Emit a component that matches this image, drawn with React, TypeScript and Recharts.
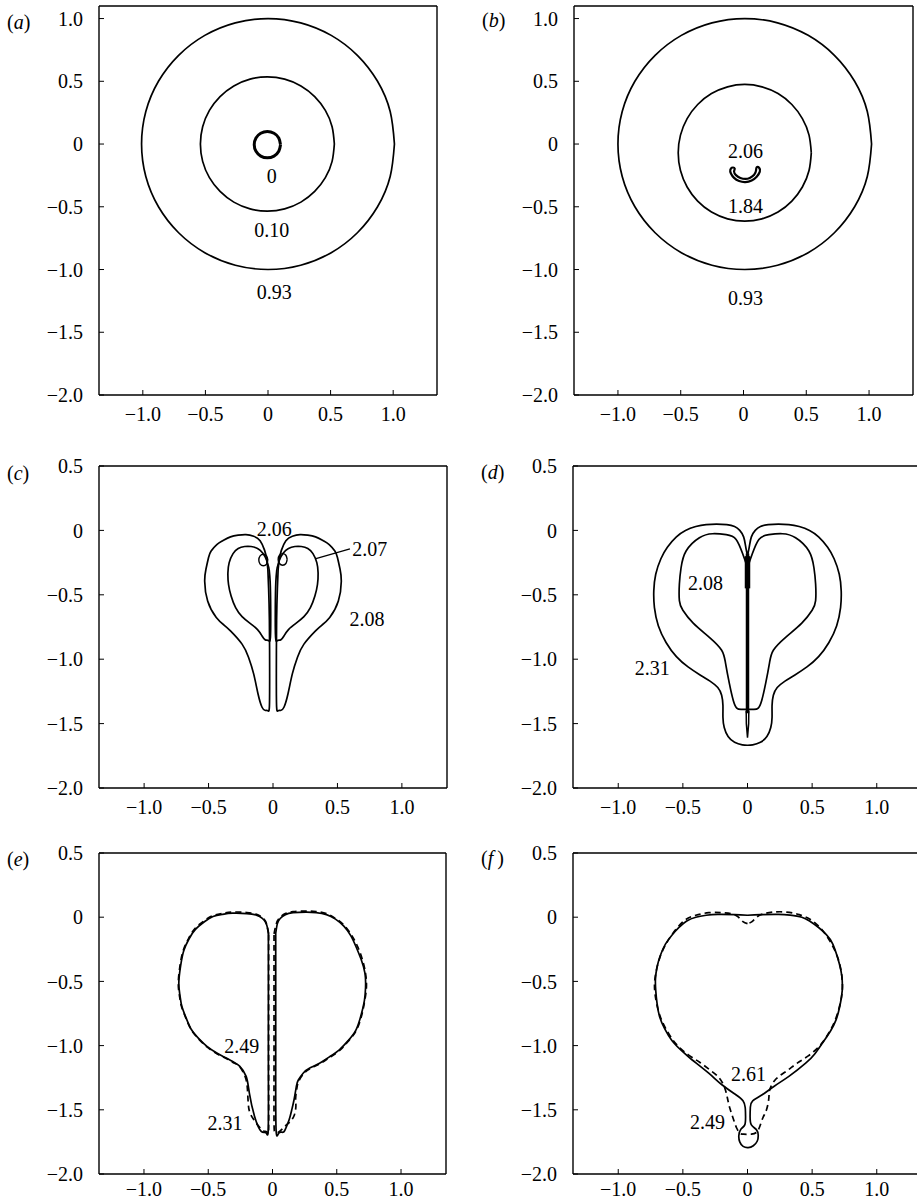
import React from 'react'
import { LineChart, Line, XAxis, YAxis, ReferenceDot } from 'recharts'

type Pt = [number, number]

const FONT = "'Liberation Serif', 'Times New Roman', serif"

// shared axis ticks
const xTicks = [-1, -0.5, 0, 0.5, 1]
const yTicksTall = [1, 0.5, 0, -0.5, -1, -1.5, -2]
const yTicksShort = [0.5, 0, -0.5, -1, -1.5, -2]

// (a) contours
const aOuter: Pt[] = [[1.01, 0], [0.976, 0.259], [0.875, 0.5], [0.714, 0.707], [0.505, 0.866], [0.261, 0.966], [0, 1], [-0.261, 0.966], [-0.505, 0.866], [-0.714, 0.707], [-0.875, 0.5], [-0.976, 0.259], [-1.01, 0], [-0.976, -0.259], [-0.875, -0.5], [-0.714, -0.707], [-0.505, -0.866], [-0.261, -0.966], [0, -1], [0.261, -0.966], [0.505, -0.866], [0.714, -0.707], [0.875, -0.5], [0.976, -0.259], [1.01, 0]]
const aMiddle: Pt[] = [[0.53, 0], [0.512, 0.138], [0.458, 0.268], [0.373, 0.378], [0.263, 0.463], [0.133, 0.517], [-0.005, 0.535], [-0.143, 0.517], [-0.273, 0.463], [-0.383, 0.378], [-0.468, 0.268], [-0.522, 0.138], [-0.54, 0], [-0.522, -0.138], [-0.468, -0.268], [-0.383, -0.378], [-0.273, -0.463], [-0.143, -0.517], [-0.005, -0.535], [0.133, -0.517], [0.263, -0.463], [0.373, -0.378], [0.458, -0.268], [0.512, -0.138], [0.53, 0]]
const aInner: Pt[] = [[0.1, -0.005], [0.086, 0.048], [0.048, 0.086], [-0.005, 0.1], [-0.058, 0.086], [-0.096, 0.048], [-0.11, -0.005], [-0.096, -0.058], [-0.058, -0.096], [-0.005, -0.11], [0.048, -0.096], [0.086, -0.058], [0.1, -0.005]]

// (b) contours
const bOuter: Pt[] = [[1.02, 0], [0.986, 0.259], [0.885, 0.5], [0.724, 0.707], [0.515, 0.866], [0.271, 0.966], [0.01, 1], [-0.251, 0.966], [-0.495, 0.866], [-0.704, 0.707], [-0.865, 0.5], [-0.966, 0.259], [-1.0, 0], [-0.966, -0.259], [-0.865, -0.5], [-0.704, -0.707], [-0.495, -0.866], [-0.251, -0.966], [0.01, -1], [0.271, -0.966], [0.515, -0.866], [0.724, -0.707], [0.885, -0.5], [0.986, -0.259], [1.02, 0]]
const bMiddle: Pt[] = [[0.54, -0.07], [0.522, 0.071], [0.469, 0.2025], [0.385, 0.315], [0.275, 0.402], [0.147, 0.456], [0.01, 0.475], [-0.127, 0.456], [-0.255, 0.402], [-0.365, 0.315], [-0.449, 0.2025], [-0.502, 0.071], [-0.52, -0.07], [-0.502, -0.211], [-0.449, -0.3425], [-0.365, -0.455], [-0.255, -0.542], [-0.127, -0.596], [0.01, -0.615], [0.147, -0.596], [0.275, -0.542], [0.385, -0.455], [0.469, -0.3425], [0.522, -0.211], [0.54, -0.07]]
const bCup: Pt[] = [[-0.09, -0.185], [-0.105, -0.205], [-0.1, -0.235], [-0.075, -0.27], [-0.035, -0.295], [0.015, -0.303], [0.065, -0.29], [0.105, -0.26], [0.13, -0.22], [0.125, -0.19], [0.105, -0.185], [0.1, -0.21], [0.085, -0.245], [0.05, -0.27], [0.015, -0.278], [-0.025, -0.27], [-0.06, -0.248], [-0.075, -0.22], [-0.07, -0.195], [-0.09, -0.185]]

// (c) contours
const cOuterL: Pt[] = [[-0.04, -0.3], [-0.05, -0.22], [-0.065, -0.155], [-0.1, -0.08], [-0.15, -0.045], [-0.21, -0.033], [-0.27, -0.037], [-0.33, -0.05], [-0.39, -0.08], [-0.436, -0.11], [-0.48, -0.16], [-0.5, -0.21], [-0.52, -0.3], [-0.53, -0.394], [-0.507, -0.548], [-0.44, -0.676], [-0.38, -0.735], [-0.33, -0.78], [-0.24, -0.883], [-0.19, -0.985], [-0.15, -1.114], [-0.116, -1.27], [-0.085, -1.373], [-0.06, -1.398], [-0.04, -1.4], [-0.028, -1.37], [-0.026, -1.1], [-0.028, -0.7], [-0.034, -0.45], [-0.04, -0.3]]
const cOuterR: Pt[] = [[0.04, -0.3], [0.05, -0.22], [0.065, -0.155], [0.1, -0.08], [0.15, -0.045], [0.21, -0.033], [0.27, -0.037], [0.33, -0.05], [0.39, -0.08], [0.436, -0.11], [0.48, -0.16], [0.5, -0.21], [0.52, -0.3], [0.53, -0.394], [0.507, -0.548], [0.44, -0.676], [0.38, -0.735], [0.33, -0.78], [0.24, -0.883], [0.19, -0.985], [0.15, -1.114], [0.116, -1.27], [0.085, -1.373], [0.06, -1.398], [0.04, -1.4], [0.028, -1.37], [0.026, -1.1], [0.028, -0.7], [0.034, -0.45], [0.04, -0.3]]
const cInnerL: Pt[] = [[-0.03, -0.3], [-0.05, -0.23], [-0.08, -0.175], [-0.12, -0.14], [-0.17, -0.125], [-0.22, -0.125], [-0.27, -0.14], [-0.31, -0.18], [-0.34, -0.25], [-0.35, -0.33], [-0.345, -0.42], [-0.325, -0.51], [-0.29, -0.6], [-0.24, -0.67], [-0.18, -0.72], [-0.12, -0.77], [-0.085, -0.82], [-0.06, -0.85], [-0.035, -0.855], [-0.02, -0.83], [-0.018, -0.6], [-0.022, -0.4], [-0.03, -0.3]]
const cInnerR: Pt[] = [[0.03, -0.3], [0.05, -0.23], [0.08, -0.175], [0.12, -0.14], [0.17, -0.125], [0.22, -0.125], [0.27, -0.14], [0.31, -0.18], [0.34, -0.25], [0.35, -0.33], [0.345, -0.42], [0.325, -0.51], [0.29, -0.6], [0.24, -0.67], [0.18, -0.72], [0.12, -0.77], [0.085, -0.82], [0.06, -0.85], [0.035, -0.855], [0.02, -0.83], [0.018, -0.6], [0.022, -0.4], [0.03, -0.3]]
const cLoopL: Pt[] = [[-0.04, -0.23], [-0.05, -0.198], [-0.075, -0.185], [-0.1, -0.198], [-0.11, -0.23], [-0.1, -0.262], [-0.075, -0.275], [-0.05, -0.262], [-0.04, -0.23]]
const cLoopR: Pt[] = [[0.11, -0.225], [0.1, -0.193], [0.075, -0.18], [0.05, -0.193], [0.04, -0.225], [0.05, -0.257], [0.075, -0.27], [0.1, -0.257], [0.11, -0.225]]
const cLeader: Pt[] = [[0.597, -0.144], [0.333, -0.219]]

// (d) contours
const dOuter: Pt[] = [[0, -0.2], [-0.015, -0.12], [-0.03, -0.05], [-0.06, 0], [-0.1, 0.03], [-0.16, 0.045], [-0.24, 0.048], [-0.32, 0.045], [-0.4, 0.03], [-0.48, 0], [-0.55, -0.05], [-0.62, -0.13], [-0.67, -0.22], [-0.71, -0.34], [-0.725, -0.47], [-0.72, -0.6], [-0.69, -0.74], [-0.63, -0.87], [-0.55, -0.98], [-0.46, -1.06], [-0.37, -1.12], [-0.29, -1.17], [-0.23, -1.22], [-0.2, -1.28], [-0.19, -1.36], [-0.19, -1.45], [-0.18, -1.53], [-0.15, -1.6], [-0.1, -1.645], [-0.04, -1.665], [0, -1.668], [0.04, -1.665], [0.1, -1.645], [0.15, -1.6], [0.18, -1.53], [0.19, -1.45], [0.19, -1.36], [0.2, -1.28], [0.23, -1.22], [0.29, -1.17], [0.37, -1.12], [0.46, -1.06], [0.55, -0.98], [0.63, -0.87], [0.69, -0.74], [0.72, -0.6], [0.725, -0.47], [0.71, -0.34], [0.67, -0.22], [0.62, -0.13], [0.55, -0.05], [0.48, 0], [0.4, 0.03], [0.32, 0.045], [0.24, 0.048], [0.16, 0.045], [0.1, 0.03], [0.06, 0], [0.03, -0.05], [0.015, -0.12], [0, -0.2]]
const dInner: Pt[] = [[0, -0.3], [-0.01, -0.26], [-0.036, -0.185], [-0.088, -0.07], [-0.165, -0.033], [-0.27, -0.026], [-0.372, -0.057], [-0.475, -0.16], [-0.514, -0.29], [-0.527, -0.416], [-0.527, -0.545], [-0.5, -0.62], [-0.42, -0.72], [-0.295, -0.83], [-0.2, -0.93], [-0.17, -1.03], [-0.14, -1.19], [-0.11, -1.32], [-0.083, -1.38], [-0.05, -1.39], [0, -1.39], [0.05, -1.39], [0.083, -1.38], [0.11, -1.32], [0.14, -1.19], [0.17, -1.03], [0.2, -0.93], [0.295, -0.83], [0.42, -0.72], [0.5, -0.62], [0.527, -0.545], [0.527, -0.416], [0.514, -0.29], [0.475, -0.16], [0.372, -0.057], [0.27, -0.026], [0.165, -0.033], [0.088, -0.07], [0.036, -0.185], [0.01, -0.26], [0, -0.3]]
const dStem: Pt[] = [[0, -0.18], [0, -1.42]]
const dStemTop: Pt[] = [[0, -0.2], [0, -0.45]]
const dStemTip: Pt[] = [[-0.01, -1.4], [-0.009, -1.5], [0, -1.61], [0.009, -1.5], [0.01, -1.4]]

// (e) contours: solid 2.49, dashed 2.31
const eSolidL: Pt[] = [[-0.032, -0.125], [-0.045, -0.06], [-0.068, -0.02], [-0.1, 0.005], [-0.13, 0.018], [-0.2, 0.028], [-0.31, 0.031], [-0.39, 0.022], [-0.463, 0.005], [-0.53, -0.035], [-0.6, -0.095], [-0.65, -0.17], [-0.69, -0.26], [-0.715, -0.38], [-0.729, -0.514], [-0.72, -0.61], [-0.705, -0.696], [-0.67, -0.79], [-0.63, -0.877], [-0.57, -0.95], [-0.51, -1.006], [-0.43, -1.06], [-0.36, -1.097], [-0.3, -1.13], [-0.256, -1.16], [-0.205, -1.24], [-0.18, -1.37], [-0.14, -1.55], [-0.088, -1.668], [-0.05, -1.68], [-0.033, -1.65], [-0.032, -1.2], [-0.032, -0.6], [-0.032, -0.125]]
const eSolidR: Pt[] = [[0.025, -0.125], [0.038, -0.05], [0.06, -0.01], [0.1, 0.02], [0.16, 0.035], [0.26, 0.04], [0.34, 0.036], [0.42, 0.02], [0.49, -0.015], [0.555, -0.07], [0.61, -0.145], [0.65, -0.23], [0.69, -0.33], [0.72, -0.44], [0.724, -0.55], [0.715, -0.65], [0.69, -0.76], [0.65, -0.877], [0.59, -0.96], [0.52, -1.033], [0.44, -1.09], [0.366, -1.137], [0.29, -1.175], [0.24, -1.213], [0.2, -1.27], [0.186, -1.316], [0.168, -1.42], [0.15, -1.5], [0.13, -1.576], [0.105, -1.64], [0.083, -1.675], [0.05, -1.68], [0.028, -1.66], [0.025, -1.2], [0.025, -0.6], [0.025, -0.125]]
const eDashL: Pt[] = [[-0.03, -0.13], [-0.044, -0.06], [-0.066, -0.015], [-0.1, 0.012], [-0.13, 0.025], [-0.2, 0.036], [-0.31, 0.04], [-0.39, 0.03], [-0.465, 0.012], [-0.535, -0.03], [-0.605, -0.09], [-0.655, -0.17], [-0.695, -0.26], [-0.72, -0.38], [-0.733, -0.514], [-0.724, -0.61], [-0.708, -0.696], [-0.672, -0.79], [-0.632, -0.877], [-0.572, -0.952], [-0.51, -1.01], [-0.43, -1.065], [-0.36, -1.1], [-0.3, -1.135], [-0.255, -1.165], [-0.21, -1.25], [-0.195, -1.34], [-0.19, -1.43], [-0.18, -1.51], [-0.15, -1.57], [-0.11, -1.625], [-0.07, -1.665], [-0.04, -1.675], [-0.03, -1.64], [-0.03, -1.2], [-0.03, -0.6], [-0.03, -0.13]]
const eDashR: Pt[] = [[0.012, -0.13], [0.03, -0.05], [0.055, -0.005], [0.1, 0.028], [0.16, 0.043], [0.26, 0.048], [0.34, 0.044], [0.42, 0.028], [0.49, -0.01], [0.555, -0.06], [0.615, -0.14], [0.665, -0.235], [0.705, -0.35], [0.727, -0.46], [0.73, -0.56], [0.716, -0.66], [0.695, -0.76], [0.655, -0.877], [0.595, -0.96], [0.525, -1.035], [0.445, -1.092], [0.37, -1.14], [0.295, -1.178], [0.245, -1.216], [0.205, -1.275], [0.19, -1.33], [0.18, -1.41], [0.182, -1.47], [0.17, -1.54], [0.14, -1.59], [0.106, -1.62], [0.075, -1.65], [0.045, -1.675], [0.02, -1.675], [0.012, -1.6], [0.012, -1.2], [0.012, -0.6], [0.012, -0.13]]

// (f) contours: solid 2.61, dashed 2.49
const fSolid: Pt[] = [[0, 0.015], [-0.1, 0.02], [-0.23, 0.022], [-0.32, 0.015], [-0.4, 0], [-0.47, -0.03], [-0.53, -0.08], [-0.585, -0.14], [-0.635, -0.21], [-0.675, -0.3], [-0.7, -0.39], [-0.712, -0.48], [-0.71, -0.57], [-0.7, -0.67], [-0.68, -0.775], [-0.64, -0.87], [-0.585, -0.96], [-0.51, -1.04], [-0.43, -1.11], [-0.3, -1.215], [-0.198, -1.305], [-0.09, -1.383], [-0.035, -1.43], [-0.018, -1.48], [-0.015, -1.55], [-0.021, -1.617], [-0.05, -1.65], [-0.067, -1.7], [-0.06, -1.75], [-0.034, -1.785], [0.005, -1.795], [0.045, -1.78], [0.075, -1.745], [0.083, -1.7], [0.07, -1.656], [0.03, -1.617], [0.02, -1.55], [0.022, -1.48], [0.04, -1.43], [0.114, -1.383], [0.204, -1.318], [0.32, -1.24], [0.45, -1.137], [0.52, -1.065], [0.58, -0.98], [0.64, -0.89], [0.685, -0.8], [0.715, -0.69], [0.733, -0.57], [0.73, -0.46], [0.71, -0.36], [0.66, -0.21], [0.61, -0.135], [0.55, -0.08], [0.48, -0.03], [0.42, 0], [0.33, 0.016], [0.24, 0.022], [0.1, 0.02], [0, 0.015]]
const fDash: Pt[] = [[0, -0.05], [-0.035, -0.035], [-0.07, 0], [-0.12, 0.025], [-0.2, 0.035], [-0.3, 0.035], [-0.4, 0.015], [-0.48, -0.02], [-0.55, -0.09], [-0.62, -0.19], [-0.68, -0.32], [-0.715, -0.47], [-0.715, -0.6], [-0.68, -0.76], [-0.62, -0.89], [-0.55, -0.99], [-0.46, -1.07], [-0.37, -1.13], [-0.29, -1.19], [-0.22, -1.25], [-0.176, -1.33], [-0.155, -1.41], [-0.137, -1.486], [-0.11, -1.57], [-0.085, -1.64], [-0.06, -1.68], [-0.03, -1.69], [0.03, -1.69], [0.07, -1.675], [0.095, -1.63], [0.12, -1.56], [0.147, -1.5], [0.165, -1.41], [0.173, -1.34], [0.22, -1.26], [0.3, -1.2], [0.38, -1.14], [0.47, -1.08], [0.56, -1.0], [0.63, -0.9], [0.69, -0.77], [0.73, -0.6], [0.73, -0.46], [0.7, -0.32], [0.64, -0.19], [0.57, -0.09], [0.49, -0.02], [0.4, 0.02], [0.3, 0.04], [0.2, 0.04], [0.12, 0.025], [0.07, 0], [0.035, -0.035], [0, -0.05]]

// contour value annotations: [text, x, y]
const aNotes: [string, number, number][] = [['0', 0.03, -0.255], ['0.10', 0.03, -0.685], ['0.93', 0.05, -1.18]]
const bNotes: [string, number, number][] = [['2.06', 0.016, -0.056], ['1.84', 0.016, -0.495], ['0.93', 0.016, -1.23]]
const cNotes: [string, number, number][] = [['2.06', 0.01, 0.015], ['2.07', 0.75, -0.14], ['2.08', 0.73, -0.69]]
const dNotes: [string, number, number][] = [['2.08', -0.325, -0.405], ['2.31', -0.736, -1.07]]
const eNotes: [string, number, number][] = [['2.49', -0.24, -1.0], ['2.31', -0.37, -1.6]]
const fNotes: [string, number, number][] = [['2.61', 0.008, -1.22], ['2.49', -0.31, -1.595]]

type Curve = { pts: Pt[]; dash?: boolean; w?: number; kind?: 'natural' | 'linear' }
type PanelCfg = {
  tag: string
  tagY: number
  frame: [number, number, number, number] // left, top, right, bottom on the page
  yDomain: [number, number]
  yTicks: number[]
  xLabelGap: number
  curves: Curve[]
  notes: [string, number, number][]
}

const fmt = (v: number) => (v === 0 ? '0' : (v < 0 ? '\u2212' : '') + Math.abs(v).toFixed(1))
const toPoints = (p: Pt[]) => p.map(([x, y]) => ({ x, y }))

const panels: PanelCfg[] = [
  {
    tag: 'a', tagY: 22, frame: [99, 6, 437, 395], yDomain: [-2, 1.1], yTicks: yTicksTall, xLabelGap: 16.5,
    curves: [{ pts: aOuter }, { pts: aMiddle }, { pts: aInner, w: 3 }],
    notes: aNotes,
  },
  {
    tag: 'b', tagY: 20, frame: [574, 6, 913, 395], yDomain: [-2, 1.1], yTicks: yTicksTall, xLabelGap: 16.5,
    curves: [{ pts: bOuter }, { pts: bMiddle }, { pts: bCup, w: 2.2 }],
    notes: bNotes,
  },
  {
    tag: 'c', tagY: 473, frame: [99, 466, 447, 788], yDomain: [-2, 0.5], yTicks: yTicksShort, xLabelGap: 16.5,
    curves: [
      { pts: cOuterL }, { pts: cOuterR }, { pts: cInnerL }, { pts: cInnerR },
      { pts: cLoopL, w: 1.4 }, { pts: cLoopR, w: 1.4 }, { pts: cLeader, kind: 'linear', w: 1.3 },
    ],
    notes: cNotes,
  },
  {
    tag: 'd', tagY: 472, frame: [573, 466, 922, 788], yDomain: [-2, 0.5], yTicks: yTicksShort, xLabelGap: 16.5,
    curves: [
      { pts: dOuter }, { pts: dInner },
      { pts: dStem, kind: 'linear', w: 3.5 }, { pts: dStemTop, kind: 'linear', w: 5.5 },
      { pts: dStemTip, kind: 'linear', w: 1.5 },
    ],
    notes: dNotes,
  },
  {
    tag: 'e', tagY: 859, frame: [99, 853, 446, 1174], yDomain: [-2, 0.5], yTicks: yTicksShort, xLabelGap: 12.8,
    curves: [
      { pts: eDashL, dash: true }, { pts: eDashR, dash: true },
      { pts: eSolidL }, { pts: eSolidR },
    ],
    notes: eNotes,
  },
  {
    tag: 'f', tagY: 858, frame: [573, 853, 922, 1174], yDomain: [-2, 0.5], yTicks: yTicksShort, xLabelGap: 12.8,
    curves: [{ pts: fDash, dash: true }, { pts: fSolid }],
    notes: fNotes,
  },
]

const tickStyle = { fill: '#000', fontSize: 20, fontFamily: FONT }
const PAD_TOP = 20

function Panel({ cfg }: { cfg: PanelCfg }) {
  const [fl, ft, fr, fb] = cfg.frame
  const left = fl - 99
  const top = ft - PAD_TOP
  const width = fr - left + 14
  const height = fb - top + 40
  // the top x axis is 1px tall and the left y axis 60px wide
  const margin = { left: 39, top: PAD_TOP - 1, right: width - (fr - left) - 1, bottom: height - (fb - top) - 30 }
  const xDomain: [number, number] = [-1.35, 1.35]

  return (
    <>
      <div
        style={{
          position: 'absolute', left: fl - 92, top: cfg.tagY - 11, fontFamily: FONT,
          fontSize: 20, lineHeight: '22px', color: '#000', whiteSpace: 'pre',
        }}
      >
        (<i>{cfg.tag}</i>{cfg.tag === 'f' ? '\u2009)' : ')'}
      </div>
      <div style={{ position: 'absolute', left, top }}>
        <LineChart width={width} height={height} margin={margin}>
          <XAxis
            dataKey="x" type="number" domain={xDomain} ticks={xTicks} allowDataOverflow interval={0}
            tickFormatter={fmt} tick={tickStyle} tickSize={-5} tickMargin={cfg.xLabelGap}
            stroke="#000" axisLine={{ stroke: '#000', strokeWidth: 1.4 }} height={30}
          />
          <XAxis
            xAxisId="top" orientation="top" type="number" domain={xDomain} ticks={xTicks} allowDataOverflow
            interval={0} tick={false} tickSize={-5} stroke="#000" axisLine={{ stroke: '#000', strokeWidth: 1.4 }} height={1}
          />
          <YAxis
            type="number" domain={cfg.yDomain} ticks={cfg.yTicks} allowDataOverflow interval={0}
            tickFormatter={fmt} tick={tickStyle} tickSize={-5} tickMargin={21}
            stroke="#000" axisLine={{ stroke: '#000', strokeWidth: 1.4 }} width={60}
          />
          <YAxis
            yAxisId="right" orientation="right" type="number" domain={cfg.yDomain} ticks={cfg.yTicks}
            allowDataOverflow interval={0} tick={false} tickSize={-5} stroke="#000"
            axisLine={{ stroke: '#000', strokeWidth: 1.4 }} width={1}
          />
          {cfg.curves.map((c, i) => (
            <Line
              key={i}
              data={toPoints(c.pts)}
              dataKey="y"
              type={c.kind ?? 'natural'}
              stroke="#000"
              strokeWidth={c.w ?? 1.7}
              strokeDasharray={c.dash ? '6 4' : undefined}
              dot={false}
              activeDot={false}
              isAnimationActive={false}
            />
          ))}
          {cfg.notes.map(([text, x, y]) => (
            <ReferenceDot
              key={text + x}
              x={x}
              y={y}
              r={0}
              fill="none"
              stroke="none"
              label={{ value: text, position: 'center', fill: '#000', fontSize: 20, fontFamily: FONT }}
            />
          ))}
        </LineChart>
      </div>
    </>
  )
}

export default function App() {
  return (
    <div
      style={{
        position: 'absolute', left: 0, top: 0, width: 917, height: 1204,
        overflow: 'hidden', background: '#fff',
      }}
    >
      {panels.map((p) => (
        <Panel key={p.tag} cfg={p} />
      ))}
    </div>
  )
}
